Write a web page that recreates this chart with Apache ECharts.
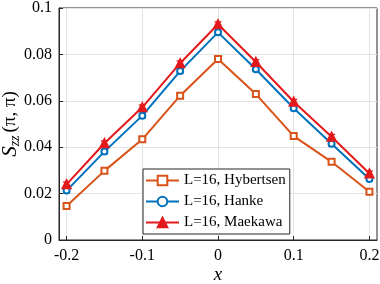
<!DOCTYPE html>
<html><head><meta charset="utf-8">
<script src="https://cdn.jsdelivr.net/npm/echarts@6/dist/echarts.min.js"></script>
<style>html,body{margin:0;padding:0;background:#fff}#c{width:380px;height:284px}</style>
</head><body><div id="c"></div>
<script>
var xValues = [-0.2, -0.15, -0.1, -0.05, 0, 0.05, 0.1, 0.15, 0.2];
var hybertsen = [0.0147, 0.0298, 0.0434, 0.0622, 0.0780, 0.0629, 0.0448, 0.0337, 0.0208];
var hanke     = [0.0213, 0.0381, 0.0536, 0.0728, 0.0895, 0.0736, 0.0568, 0.0415, 0.0263];
var maekawa   = [0.0240, 0.0417, 0.0572, 0.0762, 0.0930, 0.0767, 0.0596, 0.0445, 0.0287];
var errHybertsen = [0.0010, 0.0010, 0.0010, 0.0010, 0.0010, 0.0010, 0.0010, 0.0010, 0.0010];
var errHanke     = [0.0010, 0.0010, 0.0010, 0.0010, 0.0010, 0.0010, 0.0010, 0.0010, 0.0010];
var errMaekawa   = [0.0010, 0.0010, 0.0010, 0.0010, 0.0010, 0.0010, 0.0010, 0.0010, 0.0010];
var xTicks = [-0.2, -0.1, 0, 0.1, 0.2];
var seriesNames = ['L=16, Hybertsen', 'L=16, Hanke', 'L=16, Maekawa'];
var colors = ['#D95319', '#0072BD', '#E3191C'];

var serif = '"Liberation Serif", "DejaVu Serif", serif';
function pairs(v){ return xValues.map(function(x,i){ return [x, v[i]]; }); }
function errData(v,e){ return xValues.map(function(x,i){ return [x, v[i]-e[i], v[i]+e[i]]; }); }
function errSeries(name, v, e, color){
  return {
    type:'custom', name:name, data: errData(v,e), z:3, silent:true,
    renderItem:function(params, api){
      var lo = api.coord([api.value(0), api.value(1)]);
      var hi = api.coord([api.value(0), api.value(2)]);
      var w = 3.5;
      var st = {stroke: color, lineWidth: 1.3};
      return {type:'group', children:[
        {type:'line', shape:{x1:lo[0],y1:lo[1],x2:hi[0],y2:hi[1]}, style:st},
        {type:'line', shape:{x1:lo[0]-w,y1:lo[1],x2:lo[0]+w,y2:lo[1]}, style:st},
        {type:'line', shape:{x1:hi[0]-w,y1:hi[1],x2:hi[0]+w,y2:hi[1]}, style:st}
      ]};
    }
  };
}
var symbols = ['emptyRect', 'emptyCircle', 'triangle'];
var vals = [hybertsen, hanke, maekawa];
var errs = [errHybertsen, errHanke, errMaekawa];
var series = [];
for (var i=0;i<3;i++){
  series.push({
    type:'line', name:seriesNames[i], data:pairs(vals[i]),
    symbol:symbols[i], symbolSize: i===2 ? 8 : 6, showSymbol:true,
    lineStyle:{width:2, color:colors[i]},
    itemStyle:{color:colors[i], borderWidth:2, borderColor:colors[i]},
    z:4+i, animation:false
  });
  series.push(errSeries(seriesNames[i], vals[i], errs[i], colors[i]));
}

var chart = echarts.init(document.getElementById('c'), null, {renderer:'canvas'});
chart.setOption({
  animation:false,
  backgroundColor:'#fff',
  grid:{left:59, right:3, top:8, bottom:44, containLabel:false, outerBoundsMode:'none',
    show:true, borderColor:'#262626', borderWidth:1, backgroundColor:'transparent'},
  legend:{
    data:seriesNames, orient:'vertical', left:143, top:169,
    backgroundColor:'#fff', borderColor:'#262626', borderWidth:1,
    padding:[4,4,4,2], itemWidth:33, itemHeight:12, itemGap:6,
    textStyle:{fontFamily:serif, fontSize:15, color:'#000'}
  },
  xAxis:{
    type:'value', min:-0.21, max:0.21,
    name:'x', nameLocation:'middle', nameGap:25, nameMoveOverlap:false,
    nameTextStyle:{fontFamily:serif, fontStyle:'italic', fontSize:19, color:'#000'},
    axisLine:{show:true, onZero:false, lineStyle:{color:'#262626', width:1}},
    axisTick:{show:true, inside:true, length:4, customValues:xTicks, lineStyle:{color:'#262626'}},
    axisLabel:{customValues:xTicks, fontFamily:serif, fontSize:16, color:'#000', margin:8,
      formatter:function(v){ return (Math.round(v*10)/10).toString(); }},
    splitLine:{show:true, lineStyle:{color:'#e3e3e3', width:1}}
  },
  yAxis:{
    type:'value', min:0, max:0.1, interval:0.02,
    name:'{s|S}{sub|zz}{p|(π, π)}', nameLocation:'middle', nameGap:37, nameMoveOverlap:false,
    nameTextStyle:{fontFamily:serif, fontSize:19, color:'#000',
      rich:{
        s:{fontFamily:serif, fontStyle:'italic', fontSize:21, color:'#000'},
        sub:{fontFamily:serif, fontStyle:'italic', fontSize:14, color:'#000', padding:[9,3,0,0]},
        p:{fontFamily:serif, fontSize:19, color:'#000'}
      }},
    axisLine:{show:true, onZero:false, lineStyle:{color:'#262626', width:1}},
    axisTick:{show:true, inside:true, length:4, lineStyle:{color:'#262626'}},
    axisLabel:{fontFamily:serif, fontSize:16, color:'#000', margin:7},
    splitLine:{show:true, lineStyle:{color:'#e3e3e3', width:1}}
  },
  series:series
});
</script></body></html>
